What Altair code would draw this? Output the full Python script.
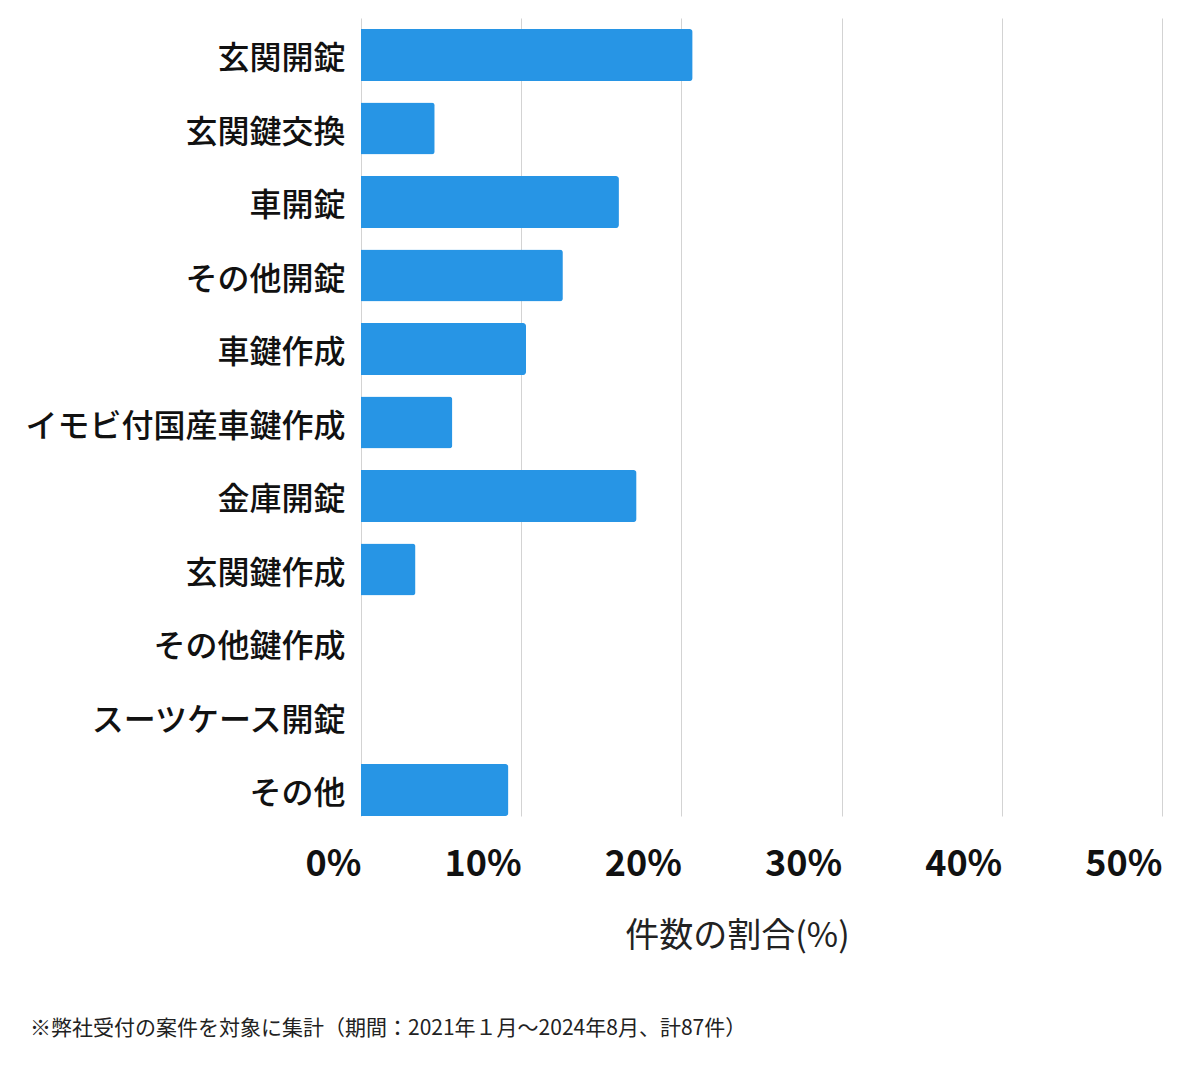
import altair as alt
import pandas as pd

# 作業内容ごとの件数の割合(%)
categories = [
    "玄関開錠",
    "玄関鍵交換",
    "車開錠",
    "その他開錠",
    "車鍵作成",
    "イモビ付国産車鍵作成",
    "金庫開錠",
    "玄関鍵作成",
    "その他鍵作成",
    "スーツケース開錠",
    "その他",
]
shares = [20.7, 4.6, 16.1, 12.6, 10.3, 5.7, 17.2, 3.4, 0, 0, 9.2]
x_ticks = [0, 10, 20, 30, 40, 50]
footnote = "※弊社受付の案件を対象に集計（期間：2021年１月～2024年8月、計87件）"

FONT = "Noto Sans CJK JP"

df = pd.DataFrame({"category": categories, "share": shares})

bars = (
    alt.Chart(df)
    .mark_bar(color="#2795e5", cornerRadiusEnd=3)
    .encode(
        x=alt.X(
            "share:Q",
            scale=alt.Scale(domain=[0, 50], nice=False),
            axis=alt.Axis(
                values=x_ticks,
                labelExpr="datum.value + '%'",
                title="件数の割合(%)",
                domain=False,
                ticks=False,
                grid=True,
                gridColor="#d3d3d3",
                gridWidth=1,
                labelFont=FONT,
                labelFontSize=36,
                labelFontWeight="bold",
                labelColor="#111111",
                labelAlign="right",
                labelBaseline="alphabetic",
                labelPadding=59,
                labelFlush=False,
                titleFont=FONT,
                titleFontSize=34,
                titleFontWeight="normal",
                titleColor="#222222",
                titleAnchor="start",
                titleAlign="center",
                titleBaseline="middle",
                titleX=376,
                titleY=120,
            ),
        ),
        y=alt.Y(
            "category:N",
            sort=categories,
            scale=alt.Scale(paddingInner=0.2925, paddingOuter=0.075, align=1),
            axis=alt.Axis(
                title=None,
                domain=False,
                ticks=False,
                grid=False,
                labelFont=FONT,
                labelFontSize=32,
                labelFontWeight=500,
                labelColor="#111111",
                labelPadding=16,
                labelOffset=4,
                labelLimit=400,
            ),
        ),
        tooltip=["category", "share"],
    )
)

note = (
    alt.Chart(pd.DataFrame({"note": [footnote]}))
    .mark_text(align="left", baseline="middle", font=FONT, fontSize=21, color="#222222")
    .encode(x=alt.value(-331), y=alt.value(1011), text="note:N")
)

chart = (
    alt.layer(bars, note)
    .properties(
        width=801,
        height=798,
        autosize=alt.AutoSizeParams(type="none"),
        padding={"left": 353, "top": 10, "right": 22, "bottom": 240},
    )
    .configure_view(stroke=None)
)

chart.save("out.html", embed_options={"renderer": "svg", "actions": False})
